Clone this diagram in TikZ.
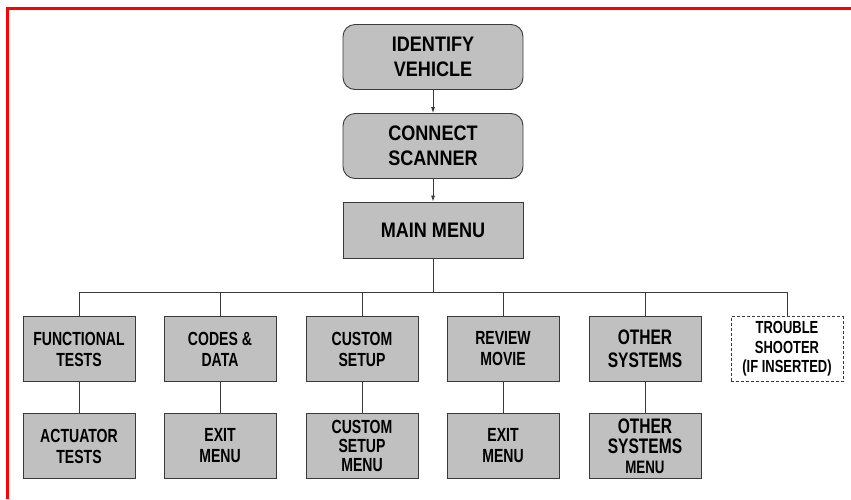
\documentclass[tikz,border=0pt]{standalone}
\usepackage{fontspec}
\setmainfont{Liberation Sans}
\newfontfamily\wideface[FakeStretch=0.86]{Liberation Sans Bold}
\newfontfamily\narrowface[FakeStretch=0.74]{Liberation Sans Bold}
\usepackage{xcolor}
\usetikzlibrary{arrows.meta, positioning, calc}
\definecolor{boxGray}{HTML}{C0C0C0}
\definecolor{lineGray}{HTML}{3A3A3A}

\begin{document}
\begin{tikzpicture}[x=1pt, y=-1pt,
    menubox/.style={rectangle, draw=lineGray, fill=boxGray, line width=0.9pt,
      minimum width=112pt, minimum height=65pt, inner sep=1pt, align=center,
      font=\narrowface\fontsize{19}{21}\selectfont},
    topbox/.style={menubox, minimum width=180pt, font=\wideface\fontsize{21}{25}\selectfont},
    optbox/.style={menubox, fill=white, dash pattern=on 3pt off 2pt,
      font=\narrowface\fontsize{17.5}{19.5}\selectfont},
    conn/.style={-{Latex[length=6pt, width=4pt]}, line width=0.8pt, lineGray},
    link/.style={line width=0.8pt, lineGray}
  ]
  \useasboundingbox (0,0) rectangle (851,499);
  \draw[red, line width=3pt] (7,499) -- (7,8) -- (851,8);

  % === Start ===
  \node[topbox, rounded corners=12pt] (idv) at (433,57) {IDENTIFY\\VEHICLE};
  \node[topbox, rounded corners=12pt] (con) at (433,146) {CONNECT\\SCANNER};
  \node[topbox, minimum height=56pt] (mm) at (433,230) {MAIN MENU};
  \draw[conn] (idv)--(con); \draw[conn] (con)--(mm);

  % === Menu items ===
  \node[menubox] (fn) at (79,349) {FUNCTIONAL\\TESTS};
  \node[menubox] (cd) at (220,349) {CODES \&\\DATA};
  \node[menubox] (cs) at (362,349) {CUSTOM\\SETUP};
  \node[menubox] (rm) at (503,349) {REVIEW\\MOVIE};
  \node[menubox, font=\narrowface\fontsize{21}{23}\selectfont] (os) at (645,349) {OTHER\\SYSTEMS};
  \node[optbox] (ts) at (787,349) {TROUBLE\\SHOOTER\\(IF INSERTED)};

  % === Sub menus ===
  \node[menubox] (at) at (79,446) {ACTUATOR\\TESTS};
  \node[menubox] (ex1) at (220,446) {EXIT\\MENU};
  \node[menubox, font=\narrowface\fontsize{19}{19}\selectfont] (csm) at (362,446) {CUSTOM\\SETUP\\MENU};
  \node[menubox] (ex2) at (503,446) {EXIT\\MENU};
  \node[menubox, font=\narrowface\fontsize{21}{20}\selectfont] (osm) at (645,446) {OTHER\\SYSTEMS\\{\fontsize{18}{18}\selectfont MENU}};

  % === Bus ===
  \coordinate (bus) at (433,292);
  \draw[link] (mm)--(bus);
  \draw[link] (fn.north |- bus)--(ts.north |- bus);
  \foreach \m in {fn,cd,cs,rm,os,ts} \draw[link] (\m.north)--(\m.north |- bus);
  \draw[link] (fn)--(at); \draw[link] (cd)--(ex1); \draw[link] (cs)--(csm);
  \draw[link] (rm)--(ex2); \draw[link] (os)--(osm);
\end{tikzpicture}
\end{document}
